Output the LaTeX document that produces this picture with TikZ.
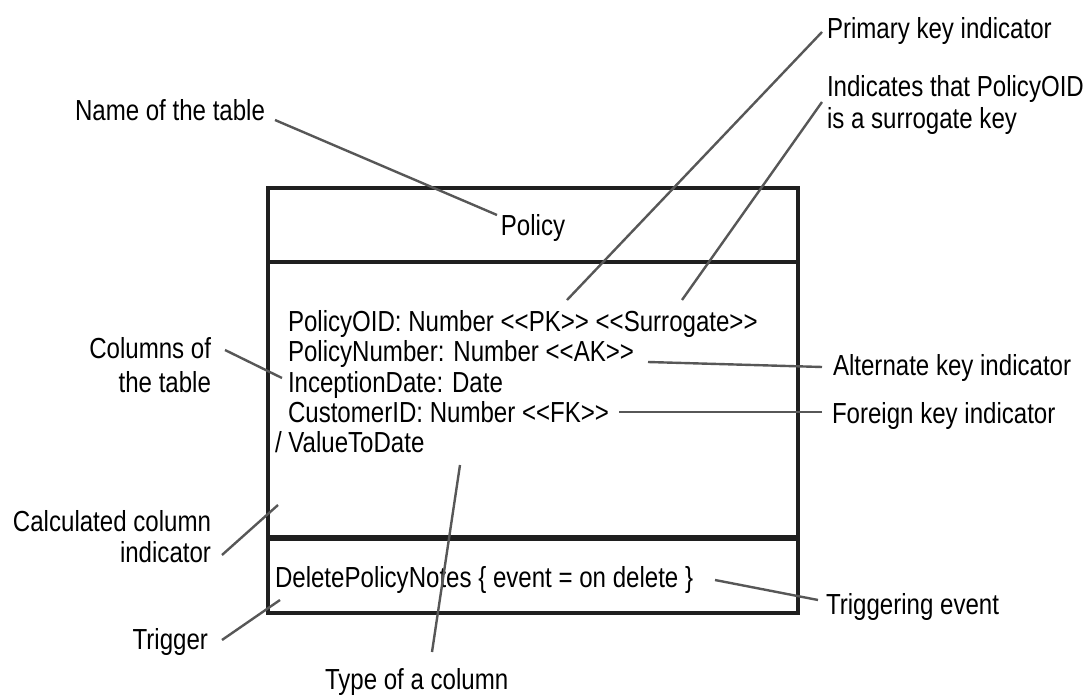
\documentclass[tikz,border=0pt]{standalone}
\usepackage{fontspec}
\setmainfont{Liberation Sans}[FakeStretch=0.83, Ligatures=TeXOff]
\begin{document}
\begin{tikzpicture}[x=1pt,y=-1pt,
  every node/.style={inner sep=0pt, outer sep=0pt, font=\fontsize{29pt}{31pt}\selectfont},
  lbl/.style={anchor=base west},
  lblr/.style={anchor=base east},
  leader/.style={draw=black!66, line width=2.4pt},
  frame/.style={draw=black!88, line width=3.2pt},
  bar/.style={draw=black!88, line width=6pt}]
\useasboundingbox (0,0) rectangle (1089,700);

% table outline and compartments
\draw[frame] (268,188) rectangle (798,613);
\draw[frame] (268,262) -- (798,262);
\draw[bar] (268,538) -- (798,538);

% table content
\node (policy) [anchor=base] at (533,236) {Policy};
\node (rowA) [lbl] at (288,331) {PolicyOID: Number <<PK>> <<Surrogate>>};
\node (rowB) [lbl] at (288,362) {PolicyNumber: Number <<AK>>};
\node (rowC) [lbl] at (288,392) {InceptionDate: Date};
\node (rowD) [lbl] at (288,422) {CustomerID: Number <<FK>>};
\node (rowE) [lbl] at (275,452) {/ ValueToDate};
\node (trig) [lbl] at (275,587) {DeletePolicyNotes \{ event = on delete \}};

% callout labels
\node (lName) [lbl] at (75,121) {Name of the table};
\node (lPK) [lbl] at (827,39) {Primary key indicator};
\node (lSurA) [lbl] at (827,97) {Indicates that PolicyOID};
\node (lSurB) [lbl] at (827,129) {is a surrogate key};
\node (lColA) [lblr] at (211,359) {Columns of};
\node (lColB) [lblr] at (211,392) {the table};
\node (lAK) [lbl] at (833,375) {Alternate key indicator};
\node (lFK) [lbl] at (832,423) {Foreign key indicator};
\node (lCalcA) [lblr] at (211,531) {Calculated column};
\node (lCalcB) [lblr] at (211,562) {indicator};
\node (lEvent) [lbl] at (826,614) {Triggering event};
\node (lTrig) [lblr] at (208,649) {Trigger};
\node (lType) [lbl] at (325,689) {Type of a column};

% leader line end points
\coordinate (sName) at (275,120);   \coordinate (eName) at (497,215);
\coordinate (sPK) at (822,32);      \coordinate (ePK) at (567,300);
\coordinate (sSur) at (822,102);    \coordinate (eSur) at (682,300);
\coordinate (sCol) at (225,350);    \coordinate (eCol) at (282,378);
\coordinate (sAK) at (822,367);     \coordinate (eAK) at (648,362);
\coordinate (sFK) at (822,412);     \coordinate (eFK) at (619,412);
\coordinate (sCalc) at (222,555);   \coordinate (eCalc) at (278,505);
\coordinate (sEvent) at (818,600);  \coordinate (eEvent) at (715,580);
\coordinate (sTrig) at (222,640);   \coordinate (eTrig) at (280,600);
\coordinate (sType) at (432,652);   \coordinate (eType) at (460,465);

% leader lines
\draw[leader] (sName) -- (eName);
\draw[leader] (sPK) -- (ePK);
\draw[leader] (sSur) -- (eSur);
\draw[leader] (sCol) -- (eCol);
\draw[leader] (sAK) -- (eAK);
\draw[leader] (sFK) -- (eFK);
\draw[leader] (sCalc) -- (eCalc);
\draw[leader] (sEvent) -- (eEvent);
\draw[leader] (sTrig) -- (eTrig);
\draw[leader] (sType) -- (eType);
\end{tikzpicture}
\end{document}
